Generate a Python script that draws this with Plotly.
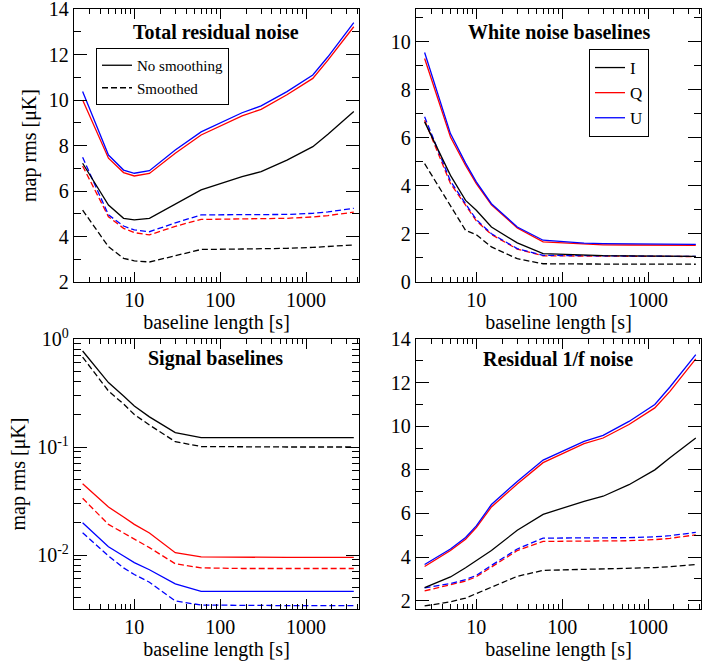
import plotly.graph_objects as go
from plotly.subplots import make_subplots

# ---------------- data ----------------
baseline_s = [2.5, 5, 7.5, 10, 15, 30, 60, 180, 300, 600, 1200, 1800, 3600]

# Total residual noise
tot_I = [7.22, 5.38, 4.80, 4.73, 4.80, 5.43, 6.05, 6.63, 6.85, 7.36, 7.95, 8.50, 9.49]
tot_Q = [10.0, 7.44, 6.81, 6.66, 6.77, 7.66, 8.46, 9.30, 9.59, 10.23, 10.95, 11.75, 13.22]
tot_U = [10.37, 7.58, 6.92, 6.78, 6.89, 7.80, 8.60, 9.44, 9.74, 10.37, 11.10, 11.90, 13.40]
tot_I_s = [5.16, 3.55, 3.04, 2.93, 2.88, 3.15, 3.43, 3.45, 3.46, 3.48, 3.52, 3.56, 3.63]
tot_Q_s = [7.10, 4.87, 4.36, 4.17, 4.07, 4.45, 4.75, 4.78, 4.78, 4.80, 4.86, 4.92, 5.07]
tot_U_s = [7.48, 4.95, 4.46, 4.29, 4.21, 4.60, 4.95, 4.96, 4.96, 4.97, 5.02, 5.08, 5.24]

# White noise baselines
wn_I = [6.67, 4.44, 3.40, 2.99, 2.29, 1.63, 1.18, 1.12, 1.10, 1.09, 1.08, 1.08, 1.07]
wn_Q = [9.31, 6.04, 4.85, 4.10, 3.21, 2.25, 1.67, 1.57, 1.55, 1.54, 1.54, 1.53, 1.53]
wn_U = [9.56, 6.18, 4.95, 4.17, 3.26, 2.29, 1.74, 1.62, 1.60, 1.59, 1.58, 1.58, 1.57]
wn_I_s = [4.93, 3.20, 2.15, 1.97, 1.46, 0.97, 0.76, 0.75, 0.75, 0.74, 0.74, 0.74, 0.74]
wn_Q_s = [6.74, 4.10, 3.20, 2.55, 1.98, 1.37, 1.09, 1.08, 1.07, 1.07, 1.06, 1.06, 1.06]
wn_U_s = [6.88, 4.20, 3.26, 2.60, 2.01, 1.39, 1.11, 1.09, 1.08, 1.08, 1.07, 1.07, 1.07]

# Signal baselines
sig_I = [0.774, 0.395, 0.296, 0.240, 0.190, 0.136, 0.122, 0.122, 0.122, 0.122, 0.122, 0.122, 0.122]
sig_Q = [0.0457, 0.0278, 0.0225, 0.0192, 0.0160, 0.0105, 0.0096, 0.0095, 0.0095, 0.0095, 0.0095, 0.0095, 0.0095]
sig_U = [0.0199, 0.0119, 0.0098, 0.0085, 0.0073, 0.0054, 0.0046, 0.0046, 0.0046, 0.0046, 0.0046, 0.0046, 0.0046]
sig_I_s = [0.680, 0.330, 0.250, 0.200, 0.160, 0.112, 0.101, 0.100, 0.100, 0.100, 0.100, 0.100, 0.100]
sig_Q_s = [0.0335, 0.0192, 0.0160, 0.0140, 0.0117, 0.0083, 0.0076, 0.0075, 0.0075, 0.0075, 0.0075, 0.0075, 0.0075]
sig_U_s = [0.0161, 0.0098, 0.0076, 0.0066, 0.0056, 0.00375, 0.00344, 0.0034, 0.0034, 0.0034, 0.0034, 0.0034, 0.0034]

# Residual 1/f noise
rf_I = [2.60, 3.09, 3.51, 3.84, 4.30, 5.23, 5.96, 6.56, 6.79, 7.32, 8.00, 8.55, 9.46]
rf_Q = [3.57, 4.30, 4.82, 5.35, 6.30, 7.35, 8.33, 9.20, 9.46, 10.08, 10.84, 11.60, 13.09]
rf_U = [3.66, 4.37, 4.90, 5.43, 6.41, 7.47, 8.45, 9.31, 9.58, 10.22, 11.00, 11.80, 13.28]
rf_I_s = [1.76, 1.95, 2.12, 2.33, 2.63, 3.12, 3.39, 3.43, 3.44, 3.47, 3.52, 3.56, 3.66]
rf_Q_s = [2.45, 2.72, 2.90, 3.10, 3.54, 4.30, 4.72, 4.74, 4.74, 4.75, 4.80, 4.86, 5.02]
rf_U_s = [2.59, 2.79, 2.97, 3.16, 3.62, 4.37, 4.87, 4.88, 4.88, 4.89, 4.93, 4.98, 5.13]

panel_titles = ["Total residual noise", "White noise baselines", "Signal baselines", "Residual 1/f noise"]
x_title = "baseline length [s]"
y_title = "map rms [\u03bcK]"

# ---------------- figure ----------------
FONT = "Liberation Serif"
BLACK, RED, BLUE = "#000000", "#ff0000", "#0000ff"
LW = 1.3
DASH = "6px,3px"

fig = make_subplots(rows=2, cols=2)

panels = [
    (1, 1, [tot_I, tot_Q, tot_U], [tot_I_s, tot_Q_s, tot_U_s]),
    (1, 2, [wn_I, wn_Q, wn_U], [wn_I_s, wn_Q_s, wn_U_s]),
    (2, 1, [sig_I, sig_Q, sig_U], [sig_I_s, sig_Q_s, sig_U_s]),
    (2, 2, [rf_I, rf_Q, rf_U], [rf_I_s, rf_Q_s, rf_U_s]),
]
colors = [BLACK, RED, BLUE]
stokes = ["I", "Q", "U"]

for (r, c, solids, dashed) in panels:
    for k in range(3):
        show = (r == 1 and c == 1 and k == 0)
        fig.add_trace(go.Scatter(
            x=baseline_s, y=dashed[k], mode="lines",
            line=dict(color=colors[k], width=LW, dash=DASH),
            name="Smoothed", showlegend=show, legend="legend", legendrank=2,
            hoverinfo="skip"), row=r, col=c)
    for k in range(3):
        if r == 1 and c == 1:
            show = (k == 0)
            nm = "No smoothing"
            lg = "legend"
        elif r == 1 and c == 2:
            show = True
            nm = stokes[k]
            lg = "legend2"
        else:
            show = False
            nm = stokes[k]
            lg = "legend"
        fig.add_trace(go.Scatter(
            x=baseline_s, y=solids[k], mode="lines",
            line=dict(color=colors[k], width=LW),
            name=nm, showlegend=show, legend=lg, legendrank=1,
            hoverinfo="skip"), row=r, col=c)

W, H = 721, 664
xl = [(74, 359), (416, 701)]
yt = [(9, 282), (339, 609)]

def xdom(i):
    return [xl[i][0] / W, xl[i][1] / W]

def ydom(i):
    return [(H - yt[i][1]) / H, (H - yt[i][0]) / H]

minor_x = [m * 10 ** e for e in range(0, 4) for m in range(2, 10)]
minor_ylog = [m * 10 ** e for e in (-3, -2, -1) for m in range(2, 10)]

common_axis = dict(
    showline=True, linecolor="black", linewidth=1.3, mirror="allticks",
    ticks="inside", tickcolor="black", showgrid=False, zeroline=False,
    automargin=False, ticklabeloverflow="allow",
    tickfont=dict(family=FONT, size=20, color="black"),
)

xaxis_names = ["xaxis", "xaxis2", "xaxis3", "xaxis4"]
pos = [(0, 0), (1, 0), (0, 1), (1, 1)]  # (col idx, row idx)

for i in range(4):
    ci, ri = pos[i]
    fig.layout[xaxis_names[i]].update(
        domain=xdom(ci), type="log", range=[0.2976, 3.617],
        tickvals=[10, 100, 1000], ticktext=["10", "100", "1000"],
        ticklen=10, tickwidth=1.3,
        minor=dict(tickvals=minor_x, ticks="inside", ticklen=5, tickwidth=1, tickcolor="black", showgrid=False),
        title=dict(text=x_title, font=dict(family=FONT, size=20, color="black"), standoff=2),
        **common_axis)

ytitle = dict(text=y_title, font=dict(family=FONT, size=20, color="black"), standoff=6)
yminor = dict(ticks="inside", ticklen=7, tickwidth=1.3, tickcolor="black", showgrid=False)

fig.layout.yaxis.update(domain=ydom(0), range=[2, 14], tickvals=[2, 4, 6, 8, 10, 12, 14],
                        ticklen=13, tickwidth=1.3,
                        minor=dict(tickvals=[3, 5, 7, 9, 11, 13], **yminor),
                        title=ytitle, **common_axis)
fig.layout.yaxis2.update(domain=ydom(0), range=[0, 11.37], tickvals=[0, 2, 4, 6, 8, 10],
                         ticklen=13, tickwidth=1.3,
                         minor=dict(tickvals=[1, 3, 5, 7, 9, 11], **yminor),
                         **common_axis)
fig.layout.yaxis3.update(domain=ydom(1), type="log", range=[-2.5, 0],
                         tickvals=[0.01, 0.1, 1],
                         ticktext=["10<sup>-2</sup>", "10<sup>-1</sup>", "10<sup>0</sup>"],
                         ticklen=13, tickwidth=1.3,
                         minor=dict(tickvals=minor_ylog, **yminor),
                         title=ytitle, **common_axis)
fig.layout.yaxis4.update(domain=ydom(1), range=[1.62, 14], tickvals=[2, 4, 6, 8, 10, 12, 14],
                         ticklen=13, tickwidth=1.3,
                         minor=dict(tickvals=[3, 5, 7, 9, 11, 13], **yminor),
                         **common_axis)

title_pos = [(216, 32), (559, 32), (216, 358), (558, 359)]
for t, (px, py) in zip(panel_titles, title_pos):
    fig.add_annotation(x=px / W, y=1 - py / H, xref="paper", yref="paper",
                       text="<b>" + t + "</b>", showarrow=False,
                       xanchor="center", yanchor="middle",
                       font=dict(family=FONT, size=20, color="black"))

fig.update_layout(
    width=W, height=H,
    margin=dict(l=0, r=0, t=0, b=0, autoexpand=False),
    paper_bgcolor="white", plot_bgcolor="white",
    font=dict(family=FONT, color="black"),
    legend=dict(x=96 / W, y=1 - 48 / H, xanchor="left", yanchor="top",
                bgcolor="white", bordercolor="black", borderwidth=1,
                font=dict(family=FONT, size=15, color="black"),
                itemwidth=30, tracegroupgap=0),
    legend2=dict(x=589 / W, y=1 - 49 / H, xanchor="left", yanchor="top",
                 bgcolor="white", bordercolor="black", borderwidth=1,
                 font=dict(family=FONT, size=17, color="black"),
                 itemwidth=30, tracegroupgap=0),
    showlegend=True,
)

fig.write_html("out.html",
               config=dict(displayModeBar=False),
               post_script="document.body.style.margin='0px';document.body.style.overflow='hidden';")
